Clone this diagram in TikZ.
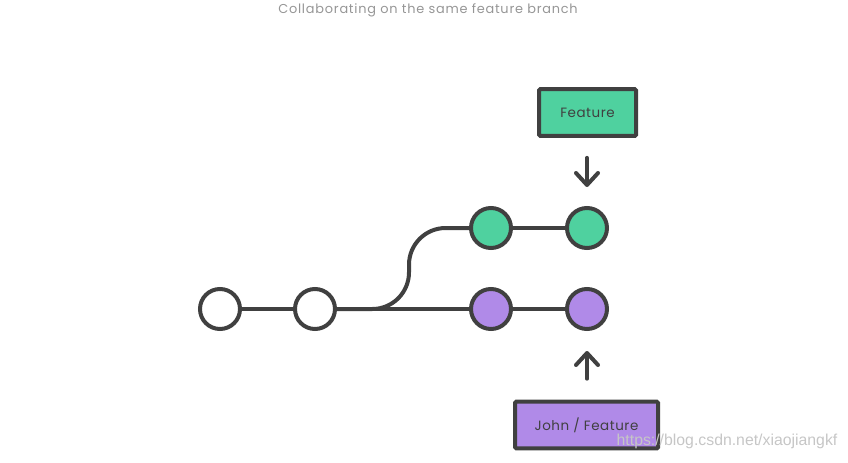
\documentclass[tikz,border=0pt]{standalone}
\usepackage{fontspec}
\setmainfont{Poppins}
\newfontfamily\markfont{Liberation Sans}
\usetikzlibrary{arrows.meta, positioning}
\definecolor{linegray}{RGB}{64, 64, 64}
\definecolor{titlegray}{RGB}{150, 150, 150}
\definecolor{featuregreen}{RGB}{79, 209, 159}
\definecolor{johnpurple}{RGB}{176, 138, 232}

\begin{document}
\begin{tikzpicture}[x=0.3mm, y=-0.3mm,
    commit/.style={circle, draw=linegray, line width=1.2mm, fill=#1,
                   minimum size=1.2cm, inner sep=0pt},
    branchbox/.style={draw=linegray, line width=1.2mm, fill=#1, rounded corners=1pt,
                   minimum height=1.4cm, text=linegray,
                   font=\fontsize{11.5}{14}\selectfont\addfontfeature{LetterSpace=4}},
    history/.style={draw=linegray, line width=1.2mm},
    pointer/.style={draw=linegray, line width=1.2mm, line cap=round,
                   -{Straight Barb[round, length=0.36cm, width=0.66cm]}}
]
    \useasboundingbox (0,0) rectangle (848,462);

    \node[text=titlegray, font=\fontsize{11}{13}\selectfont\addfontfeature{LetterSpace=6}]
        (title) at (428,10) {Collaborating on the same feature branch};

    % commits
    \node[commit=white] (c1) at (220,309) {};
    \node[commit=white] (c2) at (315,309) {};
    \node[commit=featuregreen] (f1) at (491,228) {};
    \node[commit=featuregreen] (f2) at (587,228) {};
    \node[commit=johnpurple] (j1) at (491,309) {};
    \node[commit=johnpurple] (j2) at (587,309) {};

    % branch labels
    \node[branchbox=featuregreen, minimum width=2.91cm] (feature) at (587.5,112.5) {Feature};
    \node[branchbox=johnpurple, minimum width=4.29cm] (john) at (586.5,425) {John / Feature};

    \draw[history] (c1) -- (c2);
    \draw[history] (c2) -- (j1);
    \draw[history] (j1) -- (j2);
    \draw[history] (f1) -- (f2);
    \draw[history, rounded corners=1.1cm] (c2.east) -- (409,309) -- (409,228) -- (f1.west);

    \draw[pointer, shorten <=0.6cm, shorten >=0.57cm] (feature.south -| f2) -- (f2.north);
    \draw[pointer, shorten <=0.63cm, shorten >=0.6cm] (john.north -| j2) -- (j2.south);

    \node[text=gray!45, font=\markfont\fontsize{13.5}{15}\selectfont] (mark) at (727,441)
        {https://blog.csdn.net/xiaojiangkf};
\end{tikzpicture}
\end{document}
